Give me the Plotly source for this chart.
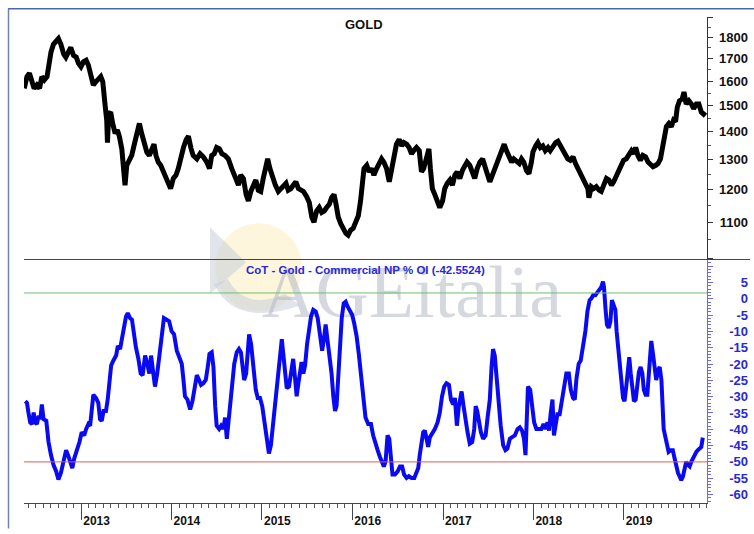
import math
import plotly.graph_objects as go

# ---------------- data ----------------
gold_dates = [
    "2012-05-16", "2012-05-27", "2012-06-06", "2012-06-16", "2012-06-25", "2012-07-06", "2012-07-17",
    "2012-07-26", "2012-08-05", "2012-08-16", "2012-08-22", "2012-09-01", "2012-09-11", "2012-09-22",
    "2012-10-01", "2012-10-11", "2012-10-22", "2012-10-31", "2012-11-11", "2012-11-20", "2012-12-01",
    "2012-12-12", "2012-12-21", "2012-12-31", "2013-01-10", "2013-01-21", "2013-01-30", "2013-02-09",
    "2013-02-19", "2013-03-02", "2013-03-11", "2013-03-21", "2013-03-29", "2013-04-03", "2013-04-09",
    "2013-04-14", "2013-04-17", "2013-04-22", "2013-04-30", "2013-05-08", "2013-05-18", "2013-05-27",
    "2013-06-04", "2013-06-14", "2013-06-20", "2013-06-27", "2013-07-04", "2013-07-14", "2013-07-24",
    "2013-08-02", "2013-08-13", "2013-08-24", "2013-09-02", "2013-09-12", "2013-09-23", "2013-10-03",
    "2013-10-13", "2013-10-22", "2013-10-30", "2013-11-08", "2013-11-18", "2013-11-29", "2013-12-09",
    "2013-12-19", "2013-12-28", "2014-01-08", "2014-01-19", "2014-01-28", "2014-02-07", "2014-02-18",
    "2014-03-01", "2014-03-10", "2014-03-20", "2014-03-29", "2014-04-13", "2014-04-26", "2014-05-09",
    "2014-05-23", "2014-06-03", "2014-06-12", "2014-06-22", "2014-07-02", "2014-07-13", "2014-07-23",
    "2014-08-05", "2014-08-18", "2014-09-01", "2014-09-14", "2014-09-28", "2014-10-07", "2014-10-18",
    "2014-10-29", "2014-11-07", "2014-11-17", "2014-11-27", "2014-12-07", "2014-12-17", "2014-12-27",
    "2015-01-06", "2015-01-17", "2015-01-24", "2015-02-02", "2015-02-13", "2015-02-24", "2015-03-08",
    "2015-03-18", "2015-03-28", "2015-04-08", "2015-04-17", "2015-04-28", "2015-05-07", "2015-05-18",
    "2015-05-28", "2015-06-07", "2015-06-17", "2015-06-30", "2015-07-11", "2015-07-21", "2015-07-30",
    "2015-08-10", "2015-08-20", "2015-08-30", "2015-09-10", "2015-09-19", "2015-09-30", "2015-10-09",
    "2015-10-19", "2015-10-27", "2015-11-05", "2015-11-15", "2015-11-25", "2015-12-06", "2015-12-15",
    "2015-12-25", "2016-01-04", "2016-01-15", "2016-01-25", "2016-02-03", "2016-02-11", "2016-02-17",
    "2016-02-28", "2016-03-09", "2016-03-19", "2016-03-28", "2016-04-08", "2016-04-18", "2016-04-28",
    "2016-05-07", "2016-05-18", "2016-05-29", "2016-06-07", "2016-06-17", "2016-06-27", "2016-07-08",
    "2016-07-18", "2016-07-27", "2016-08-07", "2016-08-17", "2016-08-27", "2016-09-05", "2016-09-16",
    "2016-09-27", "2016-10-06", "2016-10-15", "2016-10-26", "2016-11-05", "2016-11-11", "2016-11-19",
    "2016-11-29", "2016-12-08", "2016-12-19", "2016-12-30", "2017-01-08", "2017-01-18", "2017-01-29",
    "2017-02-08", "2017-02-18", "2017-02-27", "2017-03-10", "2017-03-21", "2017-03-30", "2017-04-08",
    "2017-04-19", "2017-04-30", "2017-05-09", "2017-05-19", "2017-05-30", "2017-06-10", "2017-06-19",
    "2017-06-28", "2017-07-09", "2017-07-20", "2017-07-29", "2017-08-07", "2017-08-18", "2017-08-29",
    "2017-09-05", "2017-09-14", "2017-09-25", "2017-10-05", "2017-10-14", "2017-10-25", "2017-11-05",
    "2017-11-14", "2017-11-23", "2017-12-04", "2017-12-14", "2017-12-24", "2017-12-30", "2018-01-10",
    "2018-01-19", "2018-01-29", "2018-02-08", "2018-02-18", "2018-03-01", "2018-03-10", "2018-03-21",
    "2018-04-01", "2018-04-10", "2018-04-20", "2018-04-30", "2018-05-11", "2018-05-20", "2018-05-30",
    "2018-06-10", "2018-06-20", "2018-06-30", "2018-07-09", "2018-07-20", "2018-07-31", "2018-08-09",
    "2018-08-13", "2018-08-23", "2018-09-01", "2018-09-12", "2018-09-23", "2018-10-02", "2018-10-12",
    "2018-10-23", "2018-11-02", "2018-11-12", "2018-11-21", "2018-12-02", "2018-12-12", "2018-12-22",
    "2018-12-31", "2019-01-11", "2019-01-22", "2019-02-01", "2019-02-10", "2019-02-18", "2019-02-27",
    "2019-03-09", "2019-03-19", "2019-03-30", "2019-04-09", "2019-04-18", "2019-04-29", "2019-05-10",
    "2019-05-19", "2019-05-29", "2019-06-06", "2019-06-15", "2019-06-22", "2019-07-02", "2019-07-12",
    "2019-07-21", "2019-07-29", "2019-08-05", "2019-08-14", "2019-08-25", "2019-09-01", "2019-09-10",
    "2019-09-21", "2019-10-01", "2019-10-10", "2019-10-21", "2019-10-31", "2019-11-10", "2019-11-19",
    "2019-11-26",
]
gold_close = [
    1571, 1621, 1636, 1600, 1571, 1585, 1571, 1621, 1607, 1621, 1679, 1730, 1767, 1785,
    1794, 1767, 1722, 1707, 1737, 1752, 1715, 1707, 1679, 1664, 1686, 1693, 1671, 1636,
    1585, 1600, 1614, 1621, 1600, 1564, 1488, 1444, 1360, 1467, 1475, 1431, 1394, 1406,
    1383, 1337, 1291, 1214, 1280, 1302, 1314, 1348, 1394, 1431, 1394, 1360, 1326, 1314,
    1337, 1354, 1314, 1291, 1280, 1258, 1236, 1214, 1203, 1236, 1247, 1269, 1314, 1342,
    1371, 1383, 1340, 1314, 1302, 1320, 1309, 1291, 1269, 1314, 1320, 1342, 1337, 1320,
    1314, 1302, 1269, 1236, 1214, 1247, 1236, 1184, 1164, 1194, 1214, 1231, 1198, 1194,
    1236, 1291, 1302, 1269, 1236, 1214, 1194, 1203, 1214, 1220, 1198, 1203, 1214, 1225,
    1203, 1198, 1194, 1178, 1159, 1115, 1100, 1134, 1144, 1129, 1134, 1144, 1154, 1174,
    1184, 1154, 1115, 1096, 1082, 1068, 1063, 1077, 1082, 1105, 1119, 1164, 1247, 1269,
    1280, 1258, 1269, 1247, 1269, 1291, 1302, 1291, 1269, 1225, 1269, 1326, 1354, 1371,
    1348, 1360, 1354, 1342, 1320, 1331, 1342, 1331, 1258, 1269, 1302, 1337, 1269, 1203,
    1184, 1169, 1144, 1164, 1203, 1220, 1231, 1214, 1247, 1258, 1236, 1264, 1280, 1291,
    1280, 1258, 1236, 1269, 1291, 1302, 1269, 1253, 1225, 1247, 1275, 1291, 1314, 1337,
    1354, 1331, 1314, 1291, 1302, 1291, 1286, 1302, 1291, 1262, 1252, 1291, 1326, 1348,
    1360, 1342, 1348, 1331, 1342, 1331, 1348, 1360, 1365, 1348, 1331, 1320, 1302, 1297,
    1309, 1286, 1269, 1247, 1231, 1214, 1203, 1174, 1209, 1203, 1209, 1198, 1194, 1214,
    1236, 1231, 1214, 1225, 1247, 1258, 1280, 1297, 1302, 1314, 1331, 1320, 1342, 1314,
    1297, 1314, 1309, 1291, 1286, 1275, 1280, 1286, 1302, 1348, 1377, 1419, 1431, 1419,
    1444, 1438, 1494, 1520, 1528, 1556, 1507, 1520, 1507, 1488, 1507, 1507, 1475, 1467,
    1475,
]

cot_dates = [
    "2012-05-20", "2012-05-27", "2012-06-02", "2012-06-09", "2012-06-16", "2012-06-23", "2012-06-29",
    "2012-07-06", "2012-07-13", "2012-07-20", "2012-07-26", "2012-08-02", "2012-08-13", "2012-08-22",
    "2012-09-01", "2012-09-11", "2012-09-22", "2012-10-01", "2012-10-11", "2012-10-22", "2012-11-01",
    "2012-11-11", "2012-11-18", "2012-11-26", "2012-12-04", "2012-12-15", "2012-12-25", "2013-01-03",
    "2013-01-13", "2013-01-21", "2013-01-30", "2013-02-06", "2013-02-13", "2013-02-19", "2013-03-02",
    "2013-03-11", "2013-03-18", "2013-03-25", "2013-04-01", "2013-04-11", "2013-04-18", "2013-04-25",
    "2013-05-02", "2013-05-11", "2013-05-22", "2013-05-29", "2013-06-07", "2013-06-14", "2013-06-23",
    "2013-07-01", "2013-07-08", "2013-07-17", "2013-07-25", "2013-08-02", "2013-08-10", "2013-08-20",
    "2013-08-29", "2013-09-06", "2013-09-16", "2013-09-25", "2013-10-03", "2013-10-10", "2013-10-17",
    "2013-10-26", "2013-11-04", "2013-11-13", "2013-11-22", "2013-12-01", "2013-12-12", "2013-12-22",
    "2014-01-01", "2014-01-11", "2014-01-22", "2014-02-01", "2014-02-11", "2014-02-18", "2014-02-24",
    "2014-03-06", "2014-03-17", "2014-03-26", "2014-04-03", "2014-04-13", "2014-04-22", "2014-04-30",
    "2014-05-09", "2014-05-19", "2014-05-27", "2014-06-03", "2014-06-12", "2014-06-19", "2014-06-26",
    "2014-07-02", "2014-07-12", "2014-07-20", "2014-07-29", "2014-08-05", "2014-08-12", "2014-08-18",
    "2014-08-25", "2014-09-03", "2014-09-11", "2014-09-21", "2014-09-30", "2014-10-08", "2014-10-15",
    "2014-10-21", "2014-10-29", "2014-11-07", "2014-11-10", "2014-11-18", "2014-11-27", "2014-12-07",
    "2014-12-15", "2014-12-24", "2015-01-02", "2015-01-10", "2015-01-20", "2015-01-29", "2015-02-06",
    "2015-02-16", "2015-02-25", "2015-03-05", "2015-03-15", "2015-03-22", "2015-03-28", "2015-04-04",
    "2015-04-11", "2015-04-20", "2015-05-01", "2015-05-07", "2015-05-14", "2015-05-21", "2015-05-28",
    "2015-06-03", "2015-06-10", "2015-06-17", "2015-06-24", "2015-07-02", "2015-07-10", "2015-07-18",
    "2015-07-27", "2015-08-06", "2015-08-14", "2015-08-23", "2015-09-01", "2015-09-08", "2015-09-15",
    "2015-09-23", "2015-10-02", "2015-10-09", "2015-10-16", "2015-10-23", "2015-10-29", "2015-11-05",
    "2015-11-12", "2015-11-19", "2015-11-27", "2015-12-05", "2015-12-13", "2015-12-22", "2015-12-31",
    "2016-01-08", "2016-01-18", "2016-01-27", "2016-02-07", "2016-02-15", "2016-02-23", "2016-03-05",
    "2016-03-16", "2016-03-25", "2016-04-04", "2016-04-12", "2016-04-21", "2016-04-30", "2016-05-07",
    "2016-05-14", "2016-05-22", "2016-05-29", "2016-06-04", "2016-06-11", "2016-06-21", "2016-07-02",
    "2016-07-11", "2016-07-20", "2016-07-28", "2016-08-07", "2016-08-16", "2016-08-27", "2016-09-07",
    "2016-09-16", "2016-09-23", "2016-09-29", "2016-10-06", "2016-10-13", "2016-10-20", "2016-10-27",
    "2016-11-02", "2016-11-09", "2016-11-18", "2016-11-29", "2016-12-10", "2016-12-19", "2016-12-28",
    "2017-01-06", "2017-01-15", "2017-01-25", "2017-02-02", "2017-02-11", "2017-02-18", "2017-02-26",
    "2017-03-06", "2017-03-17", "2017-03-25", "2017-04-02", "2017-04-10", "2017-04-19", "2017-04-29",
    "2017-05-07", "2017-05-13", "2017-05-19", "2017-05-26", "2017-06-03", "2017-06-12", "2017-06-22",
    "2017-06-30", "2017-07-09", "2017-07-16", "2017-07-22", "2017-07-29", "2017-08-05", "2017-08-14",
    "2017-08-22", "2017-09-01", "2017-09-10", "2017-09-18", "2017-09-28", "2017-10-07", "2017-10-18",
    "2017-10-29", "2017-11-07", "2017-11-16", "2017-11-24", "2017-11-30", "2017-12-05", "2017-12-10",
    "2017-12-19", "2017-12-27", "2018-01-04", "2018-01-13", "2018-01-23", "2018-02-02", "2018-02-11",
    "2018-02-19", "2018-02-27", "2018-03-05", "2018-03-12", "2018-03-19", "2018-03-25", "2018-04-01",
    "2018-04-08", "2018-04-17", "2018-04-27", "2018-05-05", "2018-05-14", "2018-05-24", "2018-06-01",
    "2018-06-10", "2018-06-17", "2018-06-24", "2018-07-03", "2018-07-11", "2018-07-20", "2018-07-30",
    "2018-08-07", "2018-08-16", "2018-08-23", "2018-08-30", "2018-09-08", "2018-09-16", "2018-09-26",
    "2018-10-02", "2018-10-09", "2018-10-13", "2018-10-19", "2018-10-25", "2018-11-01", "2018-11-08",
    "2018-11-14", "2018-11-21", "2018-11-28", "2018-12-03", "2018-12-08", "2018-12-15", "2018-12-22",
    "2018-12-29", "2019-01-04", "2019-01-11", "2019-01-18", "2019-01-23", "2019-01-29", "2019-02-05",
    "2019-02-11", "2019-02-18", "2019-02-25", "2019-03-03", "2019-03-10", "2019-03-17", "2019-03-23",
    "2019-03-30", "2019-04-06", "2019-04-13", "2019-04-18", "2019-04-22", "2019-04-29", "2019-05-06",
    "2019-05-12", "2019-05-19", "2019-05-26", "2019-06-02", "2019-06-06", "2019-06-11", "2019-06-18",
    "2019-06-24", "2019-07-01", "2019-07-09", "2019-07-18", "2019-07-25", "2019-08-01", "2019-08-08",
    "2019-08-14", "2019-08-21", "2019-08-28", "2019-09-04", "2019-09-10", "2019-09-17", "2019-09-24",
    "2019-10-01", "2019-10-07", "2019-10-14", "2019-10-21", "2019-10-27", "2019-11-03", "2019-11-10",
    "2019-11-16",
]
cot_np_oi = [
    -31.4, -31.9, -34.9, -37.9, -38.4, -34.9, -37.9, -38.4, -35.9, -36.9, -32.4, -36.9, -37.4, -43.9,
    -47.9, -50.9, -52.9, -55.4, -53.4, -49.9, -46.4, -48.4, -49.9, -51.9, -48.9, -46.4, -43.9, -40.9,
    -41.9, -39.9, -38.4, -38.9, -33.9, -29.4, -30.4, -31.9, -36.9, -37.4, -34.4, -34.4, -30.9, -23.9,
    -20.4, -18.9, -17.4, -14.4, -15.4, -12.4, -8.9, -5.4, -4.4, -5.9, -6.4, -10.9, -14.9, -18.4,
    -22.9, -23.4, -17.4, -19.9, -22.9, -17.4, -21.9, -26.9, -22.9, -16.9, -9.9, -5.9, -6.4, -6.9,
    -9.9, -10.9, -15.9, -17.9, -19.9, -24.9, -29.9, -30.9, -33.9, -31.4, -26.9, -23.4, -24.9, -26.4,
    -25.9, -24.9, -20.9, -16.9, -16.4, -20.9, -32.9, -38.9, -39.9, -38.9, -39.9, -36.4, -42.9, -37.9,
    -30.9, -25.9, -19.9, -16.4, -15.4, -16.4, -20.9, -24.9, -22.9, -11.9, -10.9, -13.9, -20.9, -27.9,
    -30.4, -30.4, -32.9, -37.9, -43.9, -47.4, -44.9, -36.9, -30.9, -24.9, -17.9, -12.4, -16.9, -23.9,
    -27.4, -26.9, -19.9, -18.4, -23.9, -29.9, -25.9, -22.9, -19.4, -22.9, -20.4, -13.9, -9.4, -5.4,
    -3.4, -3.9, -5.9, -10.9, -15.9, -12.4, -7.9, -12.9, -17.9, -22.9, -29.9, -34.4, -32.9, -24.9,
    -13.9, -5.9, -1.4, -0.9, -2.4, -3.4, -4.9, -7.4, -11.4, -16.9, -23.9, -30.9, -36.4, -38.4,
    -38.4, -41.9, -44.9, -46.4, -48.4, -49.9, -51.4, -49.9, -41.9, -42.9, -47.9, -53.9, -53.9, -52.9,
    -51.4, -51.4, -53.9, -54.9, -54.4, -54.9, -54.9, -53.4, -51.9, -47.9, -43.9, -40.9, -40.4, -43.9,
    -45.4, -42.4, -41.4, -39.9, -37.9, -34.9, -29.9, -26.9, -25.9, -26.4, -30.9, -32.4, -30.4, -38.9,
    -32.9, -28.4, -32.9, -37.9, -40.9, -44.4, -43.9, -39.9, -32.9, -34.4, -37.9, -40.9, -42.9, -41.9,
    -36.4, -30.9, -20.9, -15.4, -17.4, -23.9, -31.9, -38.9, -44.9, -46.4, -45.9, -42.9, -42.4, -41.9,
    -39.9, -39.4, -40.4, -42.9, -47.9, -36.9, -26.9, -27.9, -32.9, -37.9, -39.9, -39.9, -39.9, -38.4,
    -39.9, -37.9, -40.4, -34.9, -30.9, -41.9, -37.9, -35.4, -35.4, -30.9, -26.4, -22.9, -22.9, -27.9,
    -30.4, -30.9, -24.4, -19.9, -18.9, -14.9, -9.9, -3.9, -0.4, 0.1, 1.1, 1.1, 2.1, 3.1,
    3.6, 5.3, 3.6, -2.9, -7.9, -8.9, -6.9, -0.4, -1.9, -3.4, -9.9, -14.9, -19.9, -24.9,
    -30.4, -31.4, -26.9, -20.9, -17.9, -22.9, -28.4, -31.4, -30.9, -25.9, -22.4, -20.9, -22.9, -27.9,
    -29.4, -29.4, -20.9, -14.9, -12.9, -16.9, -20.9, -24.9, -21.9, -20.9, -24.9, -32.9, -39.9, -42.4,
    -44.9, -46.9, -46.4, -46.4, -48.9, -51.9, -53.4, -54.4, -55.6, -54.4, -52.4, -49.9, -50.9, -51.4,
    -49.9, -48.9, -47.4, -46.9, -46.4, -45.9, -45.4, -42.5524,
]

cot_upper_level = 1.8
cot_lower_level = -50.0
cot_last_value = -42.5524

price_tick_vals = [1100, 1200, 1300, 1400, 1500, 1600, 1700, 1800]
price_major_ticks = [1000, 1100, 1200, 1300, 1400, 1500, 1600, 1700, 1800, 1900]
price_minor_ticks = [1050, 1150, 1250, 1350, 1450, 1550, 1650, 1750, 1850]
cot_tick_vals = [-60, -55, -50, -45, -40, -35, -30, -25, -20, -15, -10, -5, 0, 5]
cot_major_ticks = [-60, -55, -50, -45, -40, -35, -30, -25, -20, -15, -10, -5, 0, 5, 10]

title_top = "GOLD"
title_bottom = "CoT - Gold - Commercial NP % OI ({:.4f})".format(cot_last_value)
watermark = "AGEitalia"

# ---------------- layout geometry ----------------
W, H = 754, 534
ML, MR, MT, MB = 24, 6, 17, 20
PW = W - ML - MR
PH = H - MT - MB
XEND = 683 / PW
SPLIT = 0.501


def px_x(p):
    return (p - ML) / PW


def px_y(p):
    return (H - MB - p) / PH


FONT = "Liberation Sans, Arial, sans-serif"
BLUE_LINE = "#0a0af2"
BLUE_TEXT = "#2828d8"
BLUE_AXIS = "#6a6ae6"

fig = go.Figure()
fig.add_trace(go.Scatter(x=gold_dates, y=gold_close, mode="lines",
                         line=dict(color="black", width=5), xaxis="x", yaxis="y",
                         hoverinfo="skip", showlegend=False))
fig.add_trace(go.Scatter(x=cot_dates, y=cot_np_oi, mode="lines",
                         line=dict(color=BLUE_LINE, width=4), xaxis="x2", yaxis="y2",
                         hoverinfo="skip", showlegend=False))
# empty traces so the label-only axes are rendered
fig.add_trace(go.Scatter(x=[], y=[], xaxis="x", yaxis="y3", showlegend=False))
fig.add_trace(go.Scatter(x=[], y=[], xaxis="x2", yaxis="y4", showlegend=False))

x_range = ["2012-05-15", "2019-12-03"]
top_range = [math.log10(996), math.log10(1900)]
bot_range = [-62.6, 12.06]

fig.update_layout(
    width=W, height=H,
    margin=dict(l=ML, r=MR, t=MT, b=MB, pad=0),
    paper_bgcolor="white", plot_bgcolor="rgba(0,0,0,0)",
    showlegend=False, hovermode=False,
    xaxis=dict(domain=[0, XEND], range=x_range, type="date", anchor="y",
               showticklabels=False, ticks="", showline=False, showgrid=False, zeroline=False),
    xaxis2=dict(domain=[0, XEND], range=x_range, type="date", anchor="y2", matches="x",
                showline=True, linecolor="#444", linewidth=1, showgrid=False, zeroline=False,
                ticks="outside", ticklen=16, tickwidth=1, tickcolor="#444",
                dtick="M12", tick0="2013-01-01", tickformat="%Y",
                ticklabelposition="outside right", ticklabelstandoff=7, ticklabelshift=1,
                tickfont=dict(family=FONT, size=12, color="#111", weight="bold"),
                minor=dict(dtick="M1", tick0="2013-01-01", ticks="outside", ticklen=4,
                           tickcolor="#555", tickwidth=1, showgrid=False)),
    yaxis=dict(domain=[SPLIT, 1], type="log", range=top_range, anchor="x", side="right",
               showline=True, linecolor="#333", linewidth=1, showgrid=False, zeroline=False,
               ticks="outside", ticklen=5, tickcolor="#333", tickmode="array",
               tickvals=price_major_ticks, showticklabels=False,
               minor=dict(tickmode="array", tickvals=price_minor_ticks, ticks="outside",
                          ticklen=3, tickcolor="#555", showgrid=False)),
    yaxis3=dict(overlaying="y", anchor="free", position=1.0, side="left", type="log",
                range=top_range, showline=False, ticks="", showgrid=False, zeroline=False,
                tickmode="array", tickvals=price_tick_vals,
                ticktext=[str(v) for v in price_tick_vals],
                tickfont=dict(family=FONT, size=13, color="#111", weight="bold")),
    yaxis2=dict(domain=[0, SPLIT], range=bot_range, anchor="x2", side="right",
                showline=True, linecolor=BLUE_AXIS, linewidth=1, showgrid=False, zeroline=False,
                ticks="outside", ticklen=5, tickcolor=BLUE_AXIS, tickmode="array",
                tickvals=cot_major_ticks, showticklabels=False,
                minor=dict(dtick=1, tick0=0, ticks="outside", ticklen=3,
                           tickcolor=BLUE_AXIS, showgrid=False)),
    yaxis4=dict(overlaying="y2", anchor="free", position=1.0, side="left",
                range=bot_range, showline=False, ticks="", showgrid=False, zeroline=False,
                tickmode="array", tickvals=cot_tick_vals,
                ticktext=[str(v) for v in cot_tick_vals],
                tickfont=dict(family=FONT, size=13, color=BLUE_TEXT, weight="bold")),
)

shapes = [
    # watermark logo (below the data)
    dict(type="circle", xref="paper", yref="paper", layer="below",
         x0=px_x(215), x1=px_x(302), y0=px_y(318), y1=px_y(228),
         fillcolor="rgba(250,236,178,0.45)", line=dict(width=0)),
    dict(type="path", xref="paper", yref="paper", layer="below",
         path="M {:.4f} {:.4f} L {:.4f} {:.4f} L {:.4f} {:.4f} Z".format(
             px_x(210), px_y(232), px_x(246), px_y(268), px_x(210), px_y(300)),
         fillcolor="rgba(200,206,218,0.55)", line=dict(width=0)),
    dict(type="path", xref="paper", yref="paper", layer="below",
         path="M {:.4f} {:.4f} Q {:.4f} {:.4f} {:.4f} {:.4f} L {:.4f} {:.4f} Q {:.4f} {:.4f} {:.4f} {:.4f} Z".format(
             px_x(214), px_y(290), px_x(235), px_y(335), px_x(300), px_y(312),
             px_x(285), px_y(300), px_x(245), px_y(318), px_x(228), px_y(285)),
         fillcolor="rgba(200,206,218,0.55)", line=dict(width=0)),
    dict(type="rect", xref="paper", yref="paper", layer="below",
         x0=px_x(262), x1=px_x(562), y0=px_y(325), y1=px_y(255),
         fillcolor="rgba(0,0,0,0)", line=dict(width=0),
         label=dict(text=watermark, textposition="middle center",
                    font=dict(family="Liberation Serif, Times New Roman, serif", size=74,
                              color="rgba(178,184,196,0.55)"))),
    # panel separator
    dict(type="line", xref="paper", yref="paper", x0=0, x1=px_x(750), y0=SPLIT, y1=SPLIT,
         line=dict(color="#444", width=1)),
    # reference levels on the CoT panel
    dict(type="line", xref="x2 domain", yref="y2", x0=0, x1=1,
         y0=cot_upper_level, y1=cot_upper_level, line=dict(color="#6cbf6c", width=1)),
    dict(type="line", xref="x2 domain", yref="y2", x0=0, x1=1,
         y0=cot_lower_level, y1=cot_lower_level, line=dict(color="#e05a5a", width=1)),
    # outer frame (top and left)
    dict(type="line", xref="paper", yref="paper", x0=px_x(8), x1=px_x(760),
         y0=px_y(8.5), y1=px_y(8.5), line=dict(color="#4e66a6", width=1.5)),
    dict(type="line", xref="paper", yref="paper", x0=px_x(8.5), x1=px_x(8.5),
         y0=px_y(540), y1=px_y(8.5), line=dict(color="#6f82b8", width=1.5)),
]
fig.update_layout(shapes=shapes)

fig.update_layout(annotations=[
    dict(text="<b>" + title_top + "</b>", xref="paper", yref="paper",
         x=px_x(364), y=px_y(25), showarrow=False, xanchor="center", yanchor="middle",
         font=dict(family=FONT, size=13, color="#111")),
    dict(text="<b>" + title_bottom + "</b>", xref="paper", yref="paper",
         x=px_x(365), y=px_y(275.5), showarrow=False, xanchor="center", yanchor="middle",
         font=dict(family=FONT, size=11.5, color=BLUE_TEXT)),
])

fig.write_html("out.html", config={"displayModeBar": False},
               post_script="document.body.style.margin='0';document.body.style.overflow='hidden';")
